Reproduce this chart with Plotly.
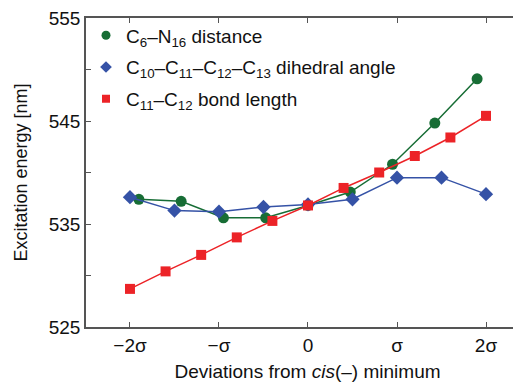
import plotly.graph_objects as go

# Data (x in units of sigma, y = excitation energy in nm)
green_x = [-1.9, -1.425, -0.95, -0.475, 0.0, 0.475, 0.95, 1.425, 1.9]
green_y = [537.4, 537.2, 535.6, 535.6, 536.8, 538.1, 540.8, 544.8, 549.1]

blue_x = [-2.0, -1.5, -1.0, -0.5, 0.0, 0.5, 1.0, 1.5, 2.0]
blue_y = [537.6, 536.3, 536.2, 536.65, 536.9, 537.4, 539.5, 539.5, 537.9]

red_x = [-2.0, -1.6, -1.2, -0.8, -0.4, 0.0, 0.4, 0.8, 1.2, 1.6, 2.0]
red_y = [528.7, 530.4, 532.0, 533.7, 535.3, 536.8, 538.5, 540.0, 541.6, 543.4, 545.5]

x_tickvals = [-2, -1, 0, 1, 2]
x_ticktext = ["−2σ", "−σ", "0", "σ", "2σ"]
y_tickvals = [525, 530, 535, 540, 545, 550, 555]
y_ticktext = ["525", "", "535", "", "545", "", "555"]

names = [
    "C<sub>6</sub>–N<sub>16</sub> distance",
    "C<sub>10</sub>–C<sub>11</sub>–C<sub>12</sub>–C<sub>13</sub> dihedral angle",
    "C<sub>11</sub>–C<sub>12</sub> bond length",
]

GREEN = "#176d35"
BLUE = "#3552a6"
RED = "#ec2327"

series = [
    (green_x, green_y, GREEN, "circle", 11, names[0]),
    (blue_x, blue_y, BLUE, "diamond", 11, names[1]),
    (red_x, red_y, RED, "square", 10, names[2]),
]

fig = go.Figure()
for xs, ys, col, sym, sz, nm in series:
    fig.add_trace(go.Scatter(x=xs, y=ys, mode="lines+markers", name=nm, showlegend=False,
                             line=dict(color=col, width=1.5),
                             marker=dict(symbol=sym, size=sz, color=col)))
for i, (xs, ys, col, sym, sz, nm) in enumerate(series):
    fig.add_trace(go.Scatter(x=[None], y=[None], mode="markers", name=nm, showlegend=True,
                             legendgroup=f"g{i}",
                             marker=dict(symbol=sym, size=sz - 2, color=col)))

FONT = "Liberation Sans, Arial, sans-serif"
axis_font = dict(family=FONT, size=19, color="#111")

fig.update_layout(
    width=521, height=384,
    margin=dict(l=78, r=0, t=10, b=65),
    paper_bgcolor="white", plot_bgcolor="white",
    font=dict(family=FONT, size=19, color="#111"),
    showlegend=True,
    legend=dict(x=0.0, y=1.005, xanchor="left", yanchor="top",
                bgcolor="rgba(0,0,0,0)", font=dict(size=19), tracegroupgap=4,
                itemwidth=30),
    xaxis=dict(range=[-2.494, 2.483], tickvals=x_tickvals, ticktext=x_ticktext,
               ticks="inside", ticklen=5, tickcolor="#555", tickwidth=1.2,
               showline=True, linecolor="#555", linewidth=1.5, mirror="ticks",
               showgrid=False, zeroline=False, tickfont=axis_font, automargin=False,
               ticklabeloverflow="allow",
               title=dict(text="Deviations from <i>cis</i>(–) minimum",
                          font=dict(size=19), standoff=10)),
    yaxis=dict(range=[525, 555], tickvals=y_tickvals, ticktext=y_ticktext,
               ticks="inside", ticklen=5, tickcolor="#555", tickwidth=1.2,
               showline=True, linecolor="#555", linewidth=1.5, mirror=False,
               showgrid=False, zeroline=False, tickfont=axis_font, automargin=False,
               ticklabeloverflow="allow",
               title=dict(text="Excitation energy [nm]", font=dict(size=18), standoff=16)),
)

fig.write_html("out.html")
